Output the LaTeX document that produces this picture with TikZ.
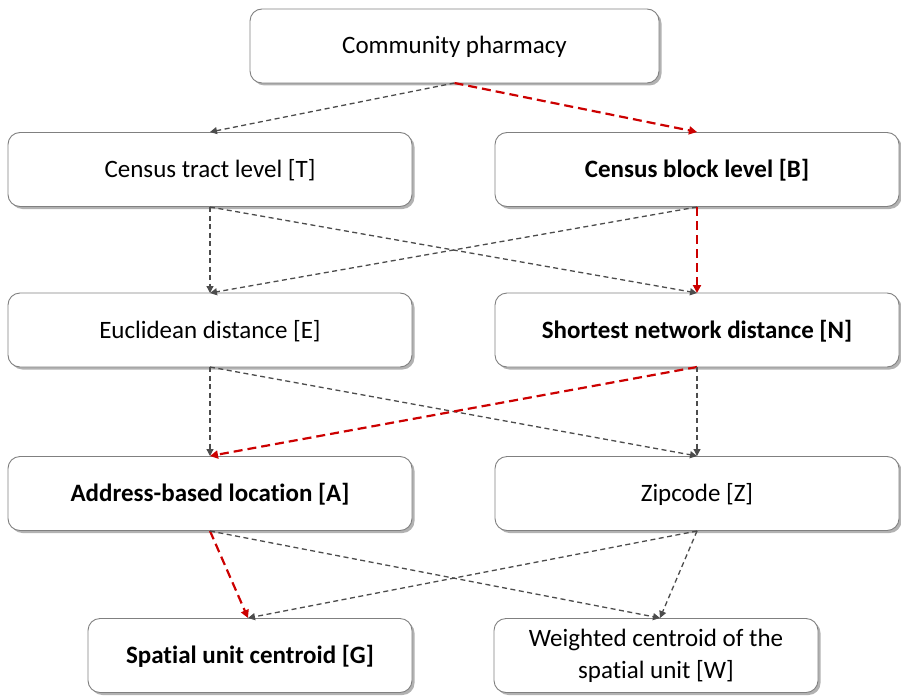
\documentclass[tikz,border=0pt]{standalone}
\usepackage{fontspec}
\setmainfont{Carlito}[Ligatures=NoCommon]
\usetikzlibrary{arrows.meta,shadows}
\begin{document}
\begin{tikzpicture}[x=1pt,y=-1pt,
  box/.style={draw=black!50, line width=0.9pt, rounded corners=12pt, fill=white,
    minimum height=74pt, inner sep=0pt, align=center, font=\fontsize{25}{31}\selectfont,
    text height=20pt, text depth=4pt,
    drop shadow={shadow xshift=2.5pt, shadow yshift=-2.5pt, fill=black, opacity=0.3}},
  twoline/.style={text height={}, text depth={}, font=\fontsize{25}{32}\selectfont},
  grayarrow/.style={draw=black!70, line width=1.3pt, dash pattern=on 5pt off 3.5pt,
    -{Triangle[length=7pt,width=7pt]}},
  redarrow/.style={draw=red!80!black, line width=2.2pt, dash pattern=on 9pt off 5pt,
    -{Triangle[length=8pt,width=8pt]}}]
\useasboundingbox (0,0) rectangle (901,698);
\node[box, minimum width=409pt] (P) at (454.5,46) {Community pharmacy};
\node[box, minimum width=404pt] (T) at (210,169.5) {Census tract level [T]};
\node[box, minimum width=404pt] (B) at (697,169.5) {\textbf{Census block level [B]}};
\node[box, minimum width=404pt] (E) at (210,330) {Euclidean distance [E]};
\node[box, minimum width=404pt] (N) at (697,330) {\textbf{Shortest network distance [N]}};
\node[box, minimum width=404pt] (A) at (210,493.5) {\textbf{Address-based location [A]}};
\node[box, minimum width=404pt] (Z) at (697,493.5) {Zipcode [Z]};
\node[box, minimum width=324pt] (G) at (250,655.5) {\textbf{Spatial unit centroid [G]}};
\node[box, twoline, minimum width=324pt] (W) at (656,655.5) {Weighted centroid of the\\spatial unit [W]};
% anchors
\coordinate (Pb) at (454.5,83);
\coordinate (Tt) at (210,132); \coordinate (Bt) at (697,132);
\coordinate (Tb) at (210,207); \coordinate (Bb) at (697,207);
\coordinate (Et) at (210,293); \coordinate (Nt) at (697,293);
\coordinate (Eb) at (210,367); \coordinate (Nb) at (697,367);
\coordinate (At) at (210,456); \coordinate (Zt) at (697,456);
\coordinate (Ab) at (210,531); \coordinate (Zb) at (697,531);
\coordinate (Gt) at (248,618); \coordinate (Wt) at (660,618);
\draw[grayarrow] (Pb) -- (Tt);
\draw[redarrow] (Pb) -- (Bt);
\draw[grayarrow] (Tb) -- (Et);
\draw[grayarrow] (Tb) -- (Nt);
\draw[grayarrow] (Bb) -- (Et);
\draw[redarrow] (Bb) -- (Nt);
\draw[grayarrow] (Eb) -- (At);
\draw[grayarrow] (Eb) -- (Zt);
\draw[redarrow] (Nb) -- (At);
\draw[grayarrow] (Nb) -- (Zt);
\draw[redarrow] (Ab) -- (Gt);
\draw[grayarrow] (Ab) -- (Wt);
\draw[grayarrow] (Zb) -- (Gt);
\draw[grayarrow] (Zb) -- (Wt);
\end{tikzpicture}
\end{document}
